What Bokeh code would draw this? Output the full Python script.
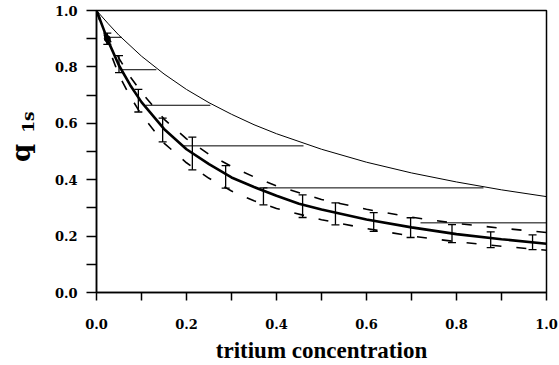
import math
from bokeh.plotting import figure
from bokeh.models import Range1d, FixedTicker, Whisker, TeeHead, ColumnDataSource, Label, PrintfTickFormatter
from bokeh.embed import file_html
from bokeh.resources import INLINE

# ---- data ----
# thick solid curve
fit_x = [0.0, 0.025, 0.05, 0.075, 0.1, 0.15, 0.2, 0.25, 0.3, 0.35, 0.4, 0.45, 0.5, 0.6, 0.7, 0.8, 0.9, 1.0]
fit_y = [1.0, 0.895, 0.805, 0.735, 0.675, 0.58, 0.508, 0.455, 0.408, 0.374, 0.343, 0.315, 0.294, 0.259, 0.231, 0.207, 0.189, 0.173]

# dashed bounds
up_x = [0.0, 0.025, 0.05, 0.075, 0.1, 0.15, 0.2, 0.25, 0.3, 0.35, 0.4, 0.5, 0.6, 0.7, 0.8, 0.9, 1.0]
up_y = [1.0, 0.91, 0.83, 0.765, 0.71, 0.615, 0.545, 0.49, 0.447, 0.41, 0.378, 0.33, 0.295, 0.267, 0.245, 0.228, 0.213]
lo_x = [0.0, 0.025, 0.05, 0.075, 0.1, 0.15, 0.2, 0.25, 0.3, 0.35, 0.4, 0.5, 0.6, 0.7, 0.8, 0.9, 1.0]
lo_y = [1.0, 0.875, 0.77, 0.695, 0.63, 0.53, 0.46, 0.405, 0.36, 0.325, 0.298, 0.258, 0.227, 0.2, 0.18, 0.164, 0.15]

# thin solid curve
thin_x = [0.0, 0.025, 0.05, 0.1, 0.15, 0.2, 0.25, 0.3, 0.35, 0.4, 0.5, 0.6, 0.7, 0.8, 0.9, 1.0]
thin_y = [1.0, 0.955, 0.912, 0.838, 0.775, 0.72, 0.673, 0.632, 0.595, 0.563, 0.508, 0.462, 0.424, 0.392, 0.364, 0.34]

# horizontal connecting lines
h_y = [0.905, 0.79, 0.664, 0.52, 0.371, 0.247]
h_x0 = [0.027, 0.056, 0.109, 0.193, 0.371, 0.72]
h_x1 = [0.056, 0.133, 0.253, 0.46, 0.86, 1.0]

# data points with error bars
eb_x = [0.024, 0.05, 0.093, 0.147, 0.213, 0.287, 0.371, 0.458, 0.531, 0.616, 0.698, 0.79, 0.876, 0.969]
eb_y = [0.90, 0.81, 0.68, 0.576, 0.493, 0.41, 0.341, 0.306, 0.279, 0.25, 0.23, 0.209, 0.187, 0.178]
eb_e = [0.02, 0.03, 0.04, 0.042, 0.058, 0.04, 0.03, 0.04, 0.039, 0.033, 0.035, 0.032, 0.028, 0.026]

x_ticks = [0.0, 0.2, 0.4, 0.6, 0.8, 1.0]
x_minor = [0.1, 0.3, 0.5, 0.7, 0.9]
y_ticks = [0.0, 0.2, 0.4, 0.6, 0.8, 1.0]
y_minor = [0.1, 0.3, 0.5, 0.7, 0.9]

p = figure(width=559, height=365, output_backend="svg", toolbar_location=None,
           x_range=Range1d(0, 1), y_range=Range1d(0, 1),
           min_border_left=96, min_border_right=13, min_border_top=10, min_border_bottom=72)
p.background_fill_color = "white"
p.border_fill_color = "white"
p.outline_line_color = "black"
p.outline_line_width = 1.5
p.xgrid.visible = False
p.ygrid.visible = False

for ax, maj, mnr, tl in ((p.xaxis[0], x_ticks, x_minor, 8), (p.yaxis[0], y_ticks, y_minor, 10)):
    ax.ticker = FixedTicker(ticks=maj, minor_ticks=mnr)
    ax.formatter = PrintfTickFormatter(format="%.1f")
    ax.major_tick_in = 0
    ax.minor_tick_in = 0
    ax.major_tick_out = tl
    ax.minor_tick_out = tl
    ax.axis_line_width = 1.5
    ax.major_tick_line_width = 1.5
    ax.minor_tick_line_width = 1.5
    ax.axis_line_color = "black"
    ax.major_tick_line_color = "black"
    ax.minor_tick_line_color = "black"
    ax.major_label_text_font = "DejaVu Serif"
    ax.major_label_text_font_style = "bold"
    ax.major_label_text_font_size = "13px"
    ax.major_label_text_color = "black"

p.xaxis[0].major_label_standoff = 18
p.yaxis[0].major_label_standoff = 9
p.xaxis[0].axis_label = "tritium concentration"
p.xaxis[0].axis_label_text_font = "Liberation Serif"
p.xaxis[0].axis_label_text_font_style = "bold"
p.xaxis[0].axis_label_text_font_size = "23px"
p.xaxis[0].axis_label_text_color = "black"
p.xaxis[0].axis_label_standoff = 6

# curves
p.line(thin_x, thin_y, line_color="black", line_width=1)
p.line(up_x, up_y, line_color="black", line_width=1.6, line_dash="10 15")
p.line(lo_x, lo_y, line_color="black", line_width=1.6, line_dash="10 15")
p.line(fit_x, fit_y, line_color="black", line_width=2.6)
p.segment(x0=h_x0, y0=h_y, x1=h_x1, y1=h_y, line_color="black", line_width=1)

src = ColumnDataSource(data=dict(x=eb_x,
                                 lo=[a - b for a, b in zip(eb_y, eb_e)],
                                 hi=[a + b for a, b in zip(eb_y, eb_e)]))
p.add_layout(Whisker(source=src, base="x", lower="lo", upper="hi", line_width=1.3, line_color="black",
                     upper_head=TeeHead(size=8, line_width=1.3, line_color="black"),
                     lower_head=TeeHead(size=8, line_width=1.3, line_color="black")))
p.scatter(eb_x[:1], eb_y[:1], size=6, color="black")

# y axis title: q with subscript 1s, placed in the left side panel (reads bottom to top)
p.add_layout(Label(x=-0.168, y=0.495, text="q", angle=math.pi / 2,
                   text_align="center", text_baseline="alphabetic", text_font="DejaVu Serif",
                   text_font_style="bold", text_font_size="26px", text_color="black"), "left")
p.add_layout(Label(x=-0.153, y=0.604, text="1s", angle=math.pi / 2,
                   text_align="center", text_baseline="alphabetic", text_font="DejaVu Serif",
                   text_font_style="bold", text_font_size="17px", text_color="black"), "left")

open("out.html", "w").write(file_html(p, INLINE))
